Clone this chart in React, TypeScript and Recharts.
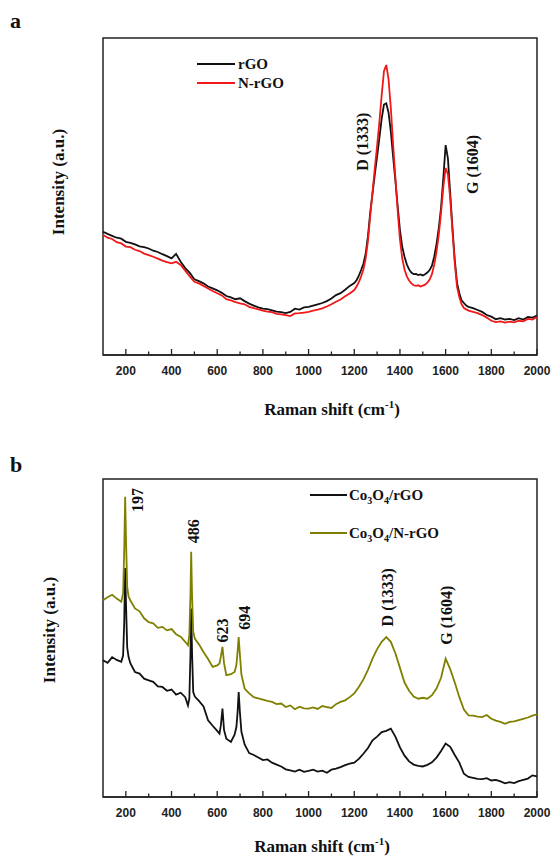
import React from 'react'
import { LineChart, Line, XAxis, YAxis, ReferenceArea, ReferenceDot } from 'recharts'

// Raman shift positions (cm-1) for panel a
const shiftA = [
  100, 120, 140, 160, 180, 200, 220, 240, 260, 280, 300, 320, 340, 360, 380, 400, 420, 440, 460, 480,
  500, 520, 540, 560, 580, 600, 620, 640, 660, 680, 700, 720, 740, 760, 780, 800, 820, 840, 860, 880,
  900, 920, 940, 960, 980, 1000, 1020, 1040, 1060, 1080, 1100, 1120, 1140, 1160, 1180, 1200,
  1210, 1220, 1230, 1240, 1250, 1260, 1270, 1280, 1290, 1300, 1310, 1320, 1330, 1340, 1350, 1360,
  1370, 1380, 1390, 1400, 1410, 1420, 1430, 1440, 1450, 1460, 1470, 1480, 1490, 1500, 1510, 1520,
  1530, 1540, 1550, 1560, 1570, 1580, 1590, 1600, 1610, 1620, 1630, 1640, 1650, 1660, 1670, 1680,
  1690, 1700, 1720, 1740, 1760, 1780, 1800, 1820, 1840, 1860, 1880, 1900, 1920, 1940, 1960, 1980, 2000,
]

const rGO = [
  38.9, 38.2, 37.6, 37.0, 36.7, 35.7, 35.4, 34.9, 34.3, 34.0, 33.6, 32.9, 32.5, 31.8, 31.2, 30.5, 31.9, 29.4, 27.4, 25.9,
  23.9, 23.3, 22.6, 21.6, 21.0, 20.4, 19.6, 18.6, 18.2, 17.6, 17.9, 17.0, 16.2, 15.6, 15.0, 14.6, 14.5, 14.1, 13.7, 13.5,
  13.2, 13.6, 14.6, 14.3, 15.0, 15.2, 15.6, 16.0, 16.4, 17.0, 17.8, 18.9, 19.5, 20.6, 21.8, 22.7,
  23.6, 25.0, 26.8, 28.8, 32.0, 37.5, 45.0, 51.0, 57.0, 62.6, 68.5, 74.5, 79.0, 79.4, 76.5, 70.5,
  62.6, 55.0, 47.0, 39.4, 34.2, 31.0, 28.6, 27.0, 26.0, 25.5, 25.6, 25.2, 25.4, 25.1, 25.5, 26.0,
  26.8, 28.2, 31.0, 35.0, 40.0, 46.5, 56.0, 66.2, 62.0, 51.0, 40.0, 30.0, 22.7, 19.5, 17.2, 16.4,
  15.6, 15.2, 14.8, 14.2, 13.6, 12.6, 12.1, 11.3, 11.6, 11.2, 11.4, 11.0, 11.6, 11.2, 12.0, 11.8, 12.4,
]

const nrGO = [
  37.9, 37.0, 36.6, 35.6, 35.2, 34.2, 34.0, 33.2, 32.8, 32.0, 31.5, 31.0, 30.4, 29.8, 29.3, 28.9, 29.4, 28.4, 26.6, 24.8,
  23.1, 22.6, 21.8, 21.0, 20.2, 19.5, 18.8, 17.6, 17.2, 16.7, 16.3, 16.0, 15.2, 14.8, 14.4, 14.0, 13.7, 13.5, 13.0, 12.8,
  12.6, 12.3, 13.1, 13.2, 13.4, 13.6, 14.0, 14.3, 14.7, 15.3, 16.0, 16.8, 17.5, 18.5, 19.4, 20.5,
  21.6, 23.0, 24.8, 27.0, 30.5, 36.0, 44.0, 51.5, 59.0, 66.0, 73.5, 82.0, 89.5, 91.5, 87.0, 78.0,
  66.5, 56.0, 45.5, 36.5, 30.5, 27.0, 24.8, 23.5, 22.6, 22.0, 21.8, 22.0, 21.6, 21.9, 22.2, 22.8,
  23.8, 25.5, 28.5, 32.5, 38.0, 45.0, 53.0, 59.0, 57.0, 49.5, 39.0, 29.0, 21.5, 18.2, 16.0, 14.8,
  14.4, 14.0, 13.6, 13.2, 12.6, 11.8, 10.8, 10.4, 10.6, 10.2, 10.5, 10.3, 10.8, 10.6, 11.4, 11.2, 12.0,
]

// Raman shift positions (cm-1) for panel b
const shiftB = [
  100, 120, 140, 160, 180, 188, 193, 197, 201, 206, 212,
  220, 240, 260, 280, 300, 320, 340, 360, 380, 400, 420, 440, 460,
  472, 478, 483, 486, 490, 495, 502,
  520, 540, 560, 580, 600, 610, 616, 623, 630, 640,
  660, 676, 684, 689, 694, 699, 706, 720,
  740, 760, 780, 800, 820, 840, 860, 880, 900, 920, 940, 960, 980, 1000, 1020, 1040, 1060, 1080,
  1100, 1120, 1140, 1160, 1180, 1200, 1220, 1240, 1260, 1280, 1300, 1320, 1340, 1360, 1380, 1400,
  1420, 1440, 1460, 1480, 1500, 1520, 1540, 1560, 1580, 1600, 1620, 1640, 1660, 1680, 1700, 1720,
  1740, 1760, 1780, 1800, 1820, 1840, 1860, 1880, 1900, 1920, 1940, 1960, 1980, 2000,
]

const coRGO = [
  43.0, 42.2, 44.0, 43.1, 42.5, 44.5, 55.0, 72.0, 60.0, 47.0, 44.0,
  42.0, 39.3, 38.8, 37.2, 36.7, 36.2, 34.8, 34.6, 33.4, 33.8, 32.2, 32.8, 31.4,
  28.8, 31.0, 45.0, 59.3, 45.0, 33.0, 31.6,
  30.2, 28.5, 24.1, 22.4, 20.8, 19.9, 22.5, 27.8, 21.0, 18.3,
  17.3, 19.6, 22.0, 26.5, 33.0, 27.0, 20.5, 16.5,
  13.8, 13.2, 12.4, 11.6, 11.8, 10.8, 10.2, 9.6, 8.7, 8.4, 8.0, 8.6, 7.9, 8.2, 8.6, 8.0, 8.3, 7.6,
  8.6, 8.9, 9.4, 10.0, 10.5, 10.8, 12.0, 13.6, 15.4, 17.8, 19.0, 20.4, 20.8, 21.5, 19.0, 15.6,
  13.0, 11.2, 10.2, 9.8, 9.6, 10.1, 10.9, 12.4, 14.5, 16.8, 15.8, 13.2, 10.8, 7.3, 6.3, 6.0,
  5.7, 5.6, 5.9, 5.2, 5.4, 4.9, 4.3, 4.7, 4.4, 5.0, 5.4, 5.8, 6.8, 6.5,
]

const coNRGO = [
  61.9, 62.8, 63.6, 62.4, 61.4, 64.0, 78.0, 94.4, 80.0, 66.0, 63.0,
  61.8, 59.3, 58.4, 56.2, 55.0, 54.6, 53.2, 53.5, 52.4, 52.8, 51.2, 50.4, 48.8,
  47.7, 51.0, 64.0, 77.1, 63.0, 52.0, 49.8,
  48.0, 45.6, 43.4, 40.9, 41.4, 42.0, 44.2, 47.2, 42.0, 38.3,
  38.6, 39.3, 41.5, 45.5, 50.3, 45.0, 38.5, 34.1,
  32.6, 31.4, 31.0, 30.6, 30.2, 29.9, 29.2, 29.4, 28.3, 28.8, 27.6, 28.4, 27.9, 27.8, 28.2, 27.7, 28.6, 28.3,
  28.0, 29.2, 29.9, 30.4, 31.4, 32.6, 34.6, 37.0, 40.0, 43.5, 46.5, 48.8, 50.3, 48.8, 45.2, 40.6,
  36.0, 33.4, 31.6, 30.9, 31.2, 30.9, 32.0, 34.1, 37.5, 43.5, 40.2, 36.0, 31.4, 27.5, 25.7, 25.6,
  25.3, 25.1, 25.8, 24.6, 24.0, 23.6, 23.0, 23.6, 23.8, 24.2, 24.6, 25.0, 25.6, 26.0,
]

const xTicks = [200, 300, 400, 500, 600, 700, 800, 900, 1000, 1100, 1200, 1300, 1400, 1500, 1600, 1700, 1800, 1900, 2000]

// peak annotations: [text, x, y]
const peaksA: [string, number, number][] = [
  ['D (1333)', 1237, 67.3],
  ['G (1604)', 1719, 60.1],
]
const peaksB: [string, number, number][] = [
  ['197', 252, 93.4],
  ['486', 498, 83.6],
  ['623', 625, 52.4],
  ['694', 720, 56.4],
  ['D (1333)', 1347, 62.8],
  ['G (1604)', 1603, 57.2],
]

const serif = '"Liberation Serif", "Times New Roman", serif'
const sans = '"Liberation Sans", Arial, sans-serif'

const dataA = shiftA.map((x, i) => ({ x, rgo: rGO[i], nrgo: nrGO[i] }))
const dataB = shiftB.map((x, i) => ({ x, co: coRGO[i], con: coNRGO[i] }))

const Tick = (props: any) => {
  const { x, y, payload } = props
  const major = payload.value % 200 === 0
  return (
    <g>
      <line x1={x} y1={y} x2={x} y2={y - (major ? 6 : 3.5)} stroke="#222" strokeWidth={1.3} />
      {major && (
        <text x={x} y={y + 20} textAnchor="middle" fontFamily={sans} fontWeight="bold" fontSize={12} fill="#222">
          {payload.value}
        </text>
      )}
    </g>
  )
}

const peakShape = (label: string) => (p: any) => (
  <text
    x={p.cx}
    y={p.cy}
    transform={`rotate(-90 ${p.cx} ${p.cy})`}
    textAnchor="middle"
    dominantBaseline="central"
    fontFamily={serif}
    fontWeight="bold"
    fontSize={16}
    fill="#111"
  >
    {label}
  </text>
)

const xTitle = (shift: number, down: number) => (p: any) => {
  const vb = p.viewBox
  const cx = vb.x + vb.width / 2 + shift
  return (
    <text x={cx} y={vb.y + down} textAnchor="middle" fontFamily={serif} fontWeight="bold" fontSize={17} fill="#111">
      Raman shift (cm
      <tspan fontSize={11} dy={-7}>-1</tspan>
      <tspan dy={7}>)</tspan>
    </text>
  )
}

function Frame() {
  return <ReferenceArea x1={100} x2={2000} y1={0} y2={100} fill="none" fillOpacity={0} stroke="#222" strokeWidth={1.5} />
}

const Co3O4 = ({ rest }: { rest: string }) => (
  <>
    Co<tspan fontSize={10} dy={4}>3</tspan>
    <tspan dy={-4}>O</tspan>
    <tspan fontSize={10} dy={4}>4</tspan>
    <tspan dy={-4}>{rest}</tspan>
  </>
)

export default function App() {
  const txt = { fontFamily: serif, fontWeight: 'bold' as const, fill: '#111' }
  return (
    <div style={{ position: 'absolute', top: 0, left: 0, width: 553, height: 859, background: '#fff' }}>
      <div style={{ position: 'absolute', top: 0, left: 0 }}>
        <LineChart width={553} height={430} data={dataA} margin={{ top: 38, right: 16, left: 103, bottom: 35 }}>
          <XAxis
            type="number"
            dataKey="x"
            domain={[100, 2000]}
            ticks={xTicks}
            interval={0}
            height={40}
            tickLine={false}
            tickSize={0}
            tickMargin={0}
            tick={Tick}
            axisLine={{ stroke: '#222', strokeWidth: 1.5 }}
            label={{ content: xTitle(12, 60) }}
          />
          <YAxis type="number" domain={[0, 100]} hide />
          <Line dataKey="rgo" stroke="#111" strokeWidth={1.8} dot={false} isAnimationActive={false} />
          <Line dataKey="nrgo" stroke="#f01818" strokeWidth={1.8} dot={false} isAnimationActive={false} />
          {Frame()}
          {peaksA.map(([t, x, y]) => (
            <ReferenceDot key={t} x={x} y={y} r={0} shape={peakShape(t)} />
          ))}
        </LineChart>
      </div>
      <div style={{ position: 'absolute', top: 430, left: 0 }}>
        <LineChart width={553} height={429} data={dataB} margin={{ top: 49, right: 16, left: 103, bottom: 22 }}>
          <XAxis
            type="number"
            dataKey="x"
            domain={[100, 2000]}
            ticks={xTicks}
            interval={0}
            height={40}
            tickLine={false}
            tickSize={0}
            tickMargin={0}
            tick={Tick}
            axisLine={{ stroke: '#222', strokeWidth: 1.5 }}
            label={{ content: xTitle(2, 55) }}
          />
          <YAxis type="number" domain={[0, 100]} hide />
          <Line dataKey="co" stroke="#111" strokeWidth={1.8} dot={false} isAnimationActive={false} />
          <Line dataKey="con" stroke="#808000" strokeWidth={1.8} dot={false} isAnimationActive={false} />
          {Frame()}
          {peaksB.map(([t, x, y]) => (
            <ReferenceDot key={t} x={x} y={y} r={0} shape={peakShape(t)} />
          ))}
        </LineChart>
      </div>
      {/* panel letters, y titles and legends */}
      <svg width={553} height={859} style={{ position: 'absolute', top: 0, left: 0, pointerEvents: 'none' }}>
        <text x={10} y={28} fontSize={22} {...txt}>a</text>
        <text x={10} y={472} fontSize={22} {...txt}>b</text>
        <text x={58} y={182} transform="rotate(-90 58 182)" textAnchor="middle" dominantBaseline="central" fontSize={17} {...txt}>
          Intensity (a.u.)
        </text>
        <text x={49} y={630} transform="rotate(-90 49 630)" textAnchor="middle" dominantBaseline="central" fontSize={17} {...txt}>
          Intensity (a.u.)
        </text>

        <line x1={197} x2={235} y1={64} y2={64} stroke="#111" strokeWidth={2} />
        <text x={238} y={69} fontSize={15} {...txt}>rGO</text>
        <line x1={197} x2={235} y1={83} y2={83} stroke="#f01818" strokeWidth={2} />
        <text x={238} y={88} fontSize={15} {...txt}>N-rGO</text>

        <line x1={310} x2={347} y1={495} y2={495} stroke="#111" strokeWidth={2} />
        <text x={349} y={500} fontSize={15} {...txt}><Co3O4 rest="/rGO" /></text>
        <line x1={310} x2={347} y1={533} y2={533} stroke="#808000" strokeWidth={2} />
        <text x={349} y={538} fontSize={15} {...txt}><Co3O4 rest="/N-rGO" /></text>
      </svg>
    </div>
  )
}
